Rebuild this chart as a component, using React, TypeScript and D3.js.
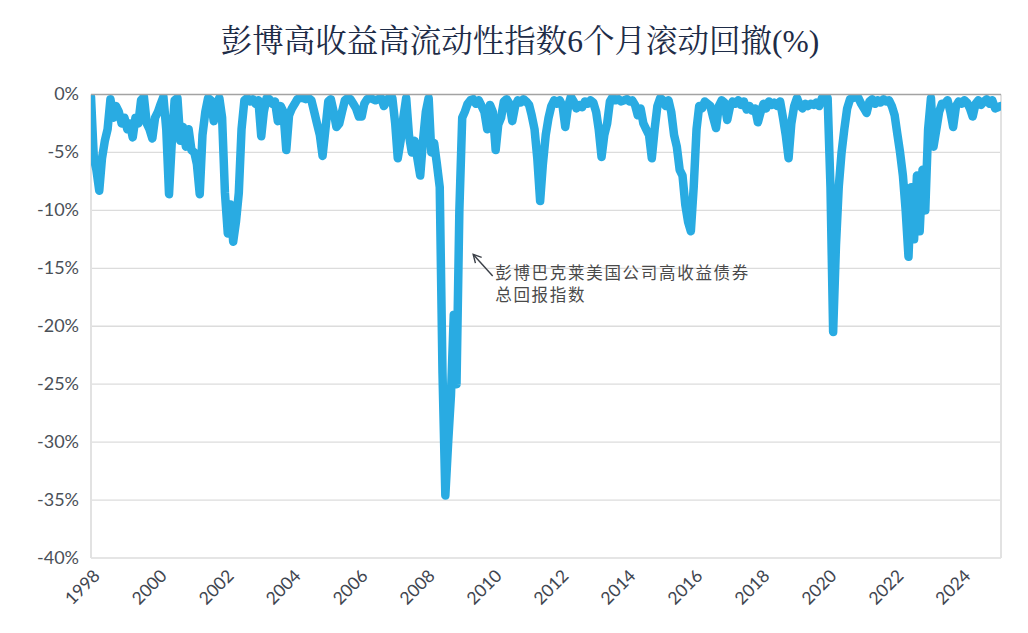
import React, { useEffect } from "react";
import * as d3 from "d3";

// ---- data (monthly 6-month rolling drawdown, %) ----
const START_YEAR = 1998;
const START_MONTH = 0; // January

const dd1998_2002 = [
  -0.2, -5.5, -6.5, -8.3, -5.5, -4.0, -3.0, -0.4, -2.0, -1.0, -1.5, -2.5,
  -2.0, -3.0, -2.5, -3.7, -2.0, -2.5, -0.5, -0.2, -2.5, -3.0, -3.8, -2.0,
  -1.5, -0.8, -0.2, -3.0, -8.6, -4.0, -0.5, -0.3, -4.0, -2.8, -4.5, -3.0,
  -4.8, -5.0, -6.0, -8.6, -3.5, -1.5, -0.3, -0.5, -2.3, -0.8, -0.3, -2.0,
  -8.5, -12.0, -9.5, -12.7, -11.0, -8.5, -3.0, -0.5, -0.3, -0.6, -0.4, -0.8,
];
const dd2003_2007 = [
  -0.5, -3.6, -1.5, -0.3, -0.4, -0.8, -0.6, -2.3, -1.0, -1.5, -4.8, -1.8,
  -1.2, -0.8, -0.4, -0.3, -0.3, -0.4, -0.3, -0.5, -1.5, -2.5, -3.5, -5.3,
  -3.0, -0.6, -0.4, -1.5, -2.8, -2.5, -1.5, -0.5, -0.3, -0.4, -0.8, -1.2,
  -1.9, -1.9, -0.8, -0.4, -0.3, -0.4, -0.5, -0.4, -0.3, -1.0, -0.6, -0.2,
  -0.3, -2.5, -5.5, -4.0, -2.0, -0.3, -3.5, -5.0, -4.0, -5.5, -7.0, -4.0,
];
const dd2008_2012 = [
  -1.5, -0.3, -5.0, -4.2, -6.0, -8.0, -24.0, -34.6, -30.0, -26.0, -19.0, -25.0,
  -10.0, -2.0, -1.5, -0.8, -0.5, -0.4, -0.8, -0.5, -1.0, -1.5, -3.0, -0.9,
  -1.5, -4.8, -2.6, -2.0, -0.6, -0.4, -0.8, -2.3, -1.0, -0.5, -0.7, -0.4,
  -0.6, -0.9, -1.8, -3.0, -5.5, -9.2, -6.0, -3.5, -2.0, -1.0, -0.5, -0.8,
  -0.5, -1.0, -2.8, -1.0, -0.2, -0.6, -1.2, -0.9, -1.1, -0.6, -0.8, -0.5,
];
const dd2013_2017 = [
  -0.7, -1.5, -3.0, -5.4, -3.5, -2.5, -0.6, -0.2, -0.5, -0.4, -0.6, -0.5,
  -0.4, -0.6, -0.5, -0.9, -1.8, -1.2, -2.5, -3.0, -3.5, -5.5, -3.0, -1.0,
  -0.3, -0.5, -1.0, -0.5, -1.5, -3.5, -4.5, -6.5, -7.0, -9.5, -11.0, -11.8,
  -8.0, -3.0, -1.0, -1.2, -0.6, -0.8, -1.0, -2.0, -2.9, -1.0, -0.5, -0.7,
  -2.2, -1.0, -0.6, -0.8, -0.5, -0.9, -0.6, -1.3, -1.0, -1.4, -1.2, -2.4,
];
const dd2018_2022 = [
  -1.5, -0.8, -1.2, -0.6, -0.9, -0.7, -1.0, -0.6, -2.0, -3.5, -5.5, -2.5,
  -1.0, -0.3, -0.9, -1.2, -0.8, -1.0, -0.8, -0.9, -0.7, -1.0, -0.3, -0.2,
  -0.3, -8.0, -20.5, -13.0, -8.0, -5.0, -3.0, -1.2, -0.4, -0.3, -0.2, -0.3,
  -0.8, -1.2, -1.6, -0.6, -0.4, -0.8, -0.5, -0.7, -0.4, -0.6, -0.5, -1.0,
  -1.8, -3.5, -5.0, -7.0, -10.0, -14.0, -8.0, -12.5, -7.0, -11.8, -6.5, -10.0,
];
const dd2023_2025 = [
  -3.0, -0.3, -4.5, -3.0, -1.5, -0.8, -0.8, -0.5, -1.5, -2.8, -1.0, -0.6,
  -0.8, -0.5, -0.7, -1.2, -1.9, -0.8, -0.5, -0.9, -0.6, -0.4, -0.8, -0.5,
  -1.2, -1.1, -1.0,
];

const yTicks = [0, -5, -10, -15, -20, -25, -30, -35, -40];
const xTickYears = [1998, 2000, 2002, 2004, 2006, 2008, 2010, 2012, 2014, 2016, 2018, 2020, 2022, 2024];
const titleText = "彭博高收益高流动性指数6个月滚动回撤(%)";
const annotationLines = ["彭博巴克莱美国公司高收益债券", "总回报指数"];
const annotationTarget = { year: 2009, month: 5, value: -13.8 };

// ---- layout ----
const W = 1028;
const H = 633;
const PLOT = { left: 91, right: 1001, top: 94.5, bottom: 558 };

export default function App() {
  useEffect(() => {
    document.body.style.margin = "0";
    document.body.style.overflow = "hidden";
  }, []);

  const values = [
    ...dd1998_2002,
    ...dd2003_2007,
    ...dd2008_2012,
    ...dd2013_2017,
    ...dd2018_2022,
    ...dd2023_2025,
  ];
  const start = new Date(START_YEAR, START_MONTH, 1);
  const data = values.map((v, i) => ({ date: d3.timeMonth.offset(start, i), v }));

  const x = d3
    .scaleTime()
    .domain([start, new Date(2025, 2, 6)])
    .range([PLOT.left, PLOT.right]);
  const y = d3.scaleLinear().domain([-40, 0]).range([PLOT.bottom, PLOT.top]);

  const linePath =
    d3
      .line<{ date: Date; v: number }>()
      .x((d) => x(d.date))
      .y((d) => y(d.v))(data) || "";

  const tipX = x(new Date(annotationTarget.year, annotationTarget.month, 1));
  const tipY = y(annotationTarget.value);
  const tailX = tipX + 19.5;
  const tailY = tipY + 21.5;
  const ang = Math.atan2(tailY - tipY, tailX - tipX);
  const headLen = 9;
  const spread = (28 * Math.PI) / 180;
  const h1 = [tipX + headLen * Math.cos(ang - spread), tipY + headLen * Math.sin(ang - spread)];
  const h2 = [tipX + headLen * Math.cos(ang + spread), tipY + headLen * Math.sin(ang + spread)];

  const axisFont = "Lato, 'Open Sans', sans-serif";

  return (
    <svg width={W} height={H} style={{ display: "block", background: "#fff" }}>
      <defs>
        <clipPath id="plotClip">
          <rect
            x={PLOT.left}
            y={PLOT.top}
            width={PLOT.right - PLOT.left}
            height={PLOT.bottom - PLOT.top}
          />
        </clipPath>
      </defs>

      <text
        x={520}
        y={52}
        textAnchor="middle"
        fontFamily="'Liberation Serif', 'Noto Serif CJK SC', 'Noto Sans CJK SC', serif"
        fontSize={31.5}
        fill="#1e2c47"
      >
        {titleText}
      </text>

      {/* grid */}
      {yTicks
        .filter((t) => t !== 0)
        .map((t) => (
          <line
            key={t}
            x1={PLOT.left}
            x2={PLOT.right}
            y1={y(t)}
            y2={y(t)}
            stroke="#dcdcdc"
            strokeWidth={1.3}
          />
        ))}
      <line x1={PLOT.left} x2={PLOT.left} y1={PLOT.top} y2={PLOT.bottom} stroke="#e2e2e2" strokeWidth={2} />
      <line x1={PLOT.right} x2={PLOT.right} y1={PLOT.top} y2={PLOT.bottom} stroke="#e2e2e2" strokeWidth={2} />

      {/* series */}
      <path
        d={linePath}
        clipPath="url(#plotClip)"
        fill="none"
        stroke="#29abe2"
        strokeWidth={8.5}
        strokeLinejoin="round"
        strokeLinecap="round"
      />

      {/* zero line */}
      <line x1={PLOT.left} x2={PLOT.right} y1={y(0)} y2={y(0)} stroke="#a3a3a3" strokeWidth={1.5} />

      {/* y labels */}
      {yTicks.map((t) => (
        <text
          key={t}
          x={79}
          y={y(t)}
          dy="0.33em"
          textAnchor="end"
          fontFamily={axisFont}
          fontSize={18}
          fill="#4a5058"
        >
          {`${t}%`}
        </text>
      ))}

      {/* x labels */}
      {xTickYears.map((yr) => {
        const tx = x(new Date(yr, 0, 1)) + 10;
        const ty = PLOT.bottom + 19;
        return (
          <text
            key={yr}
            transform={`translate(${tx},${ty}) rotate(-45)`}
            textAnchor="end"
            fontFamily={axisFont}
            fontSize={17.5}
            fill="#3f4650"
          >
            {yr}
          </text>
        );
      })}

      {/* annotation */}
      <line x1={tailX} y1={tailY} x2={tipX} y2={tipY} stroke="#3a3f47" strokeWidth={1.4} />
      <polyline
        points={`${h1[0]},${h1[1]} ${tipX},${tipY} ${h2[0]},${h2[1]}`}
        fill="none"
        stroke="#3a3f47"
        strokeWidth={1.4}
      />
      {annotationLines.map((s, i) => (
        <text
          key={i}
          x={tailX + 2.5}
          y={tailY + 3 + i * 22}
          fontFamily="'Noto Sans CJK SC', sans-serif"
          fontSize={16.5}
          letterSpacing={1.7}
          fill="#4a4a4a"
        >
          {s}
        </text>
      ))}
    </svg>
  );
}
